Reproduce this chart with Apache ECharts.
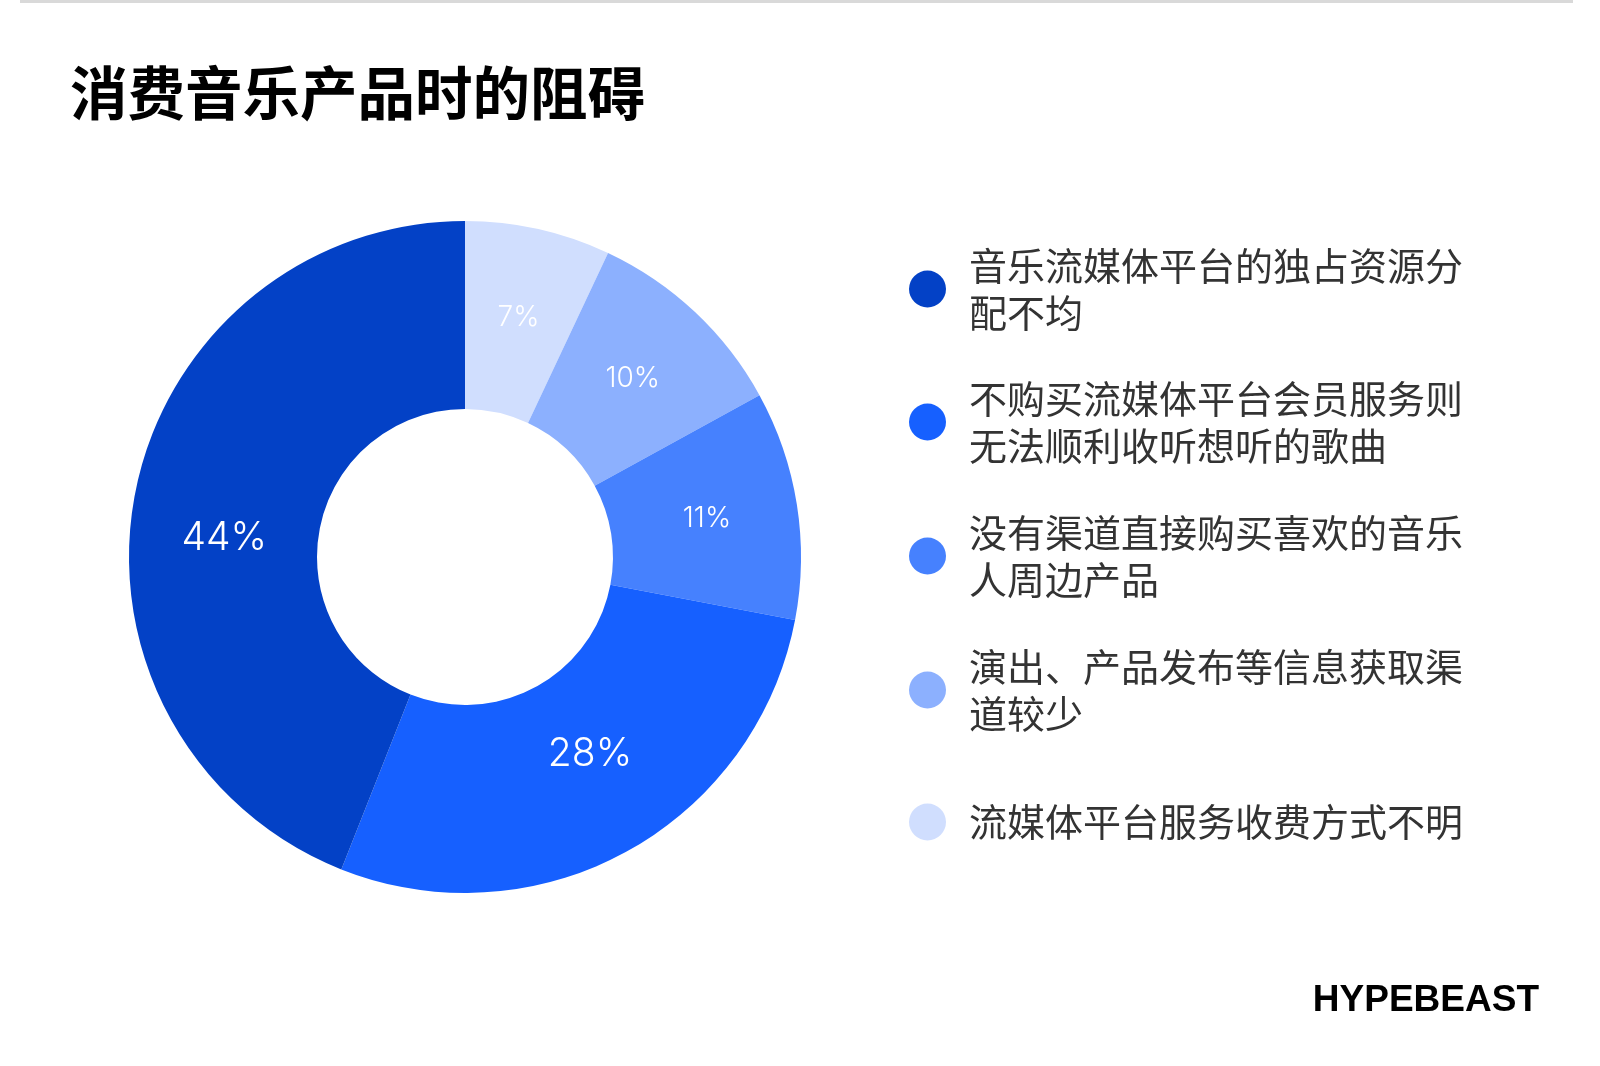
<!DOCTYPE html>
<html>
<head>
<meta charset="utf-8">
<script src="https://cdn.jsdelivr.net/npm/echarts@6/dist/echarts.min.js"></script>
<style>
  html, body { margin: 0; padding: 0; background: #fff; }
  #main { width: 1600px; height: 1066px; }
</style>
</head>
<body>
<div id="main"></div>
<script>
// 数据
var categories = [
  '音乐流媒体平台的独占资源分配不均',
  '不购买流媒体平台会员服务则无法顺利收听想听的歌曲',
  '没有渠道直接购买喜欢的音乐人周边产品',
  '演出、产品发布等信息获取渠道较少',
  '流媒体平台服务收费方式不明'
];
var values = [44, 28, 11, 10, 7];
var colors = ['#0341C6', '#1660FF', '#4681FE', '#8CB0FE', '#D0DEFE'];

var myChart = echarts.init(document.getElementById('main'));

// 饼图顺时针从 12 点开始是最小的一块，所以倒过来放
var pieData = [];
for (var i = categories.length - 1; i >= 0; i--) {
  pieData.push({
    name: categories[i],
    value: values[i],
    itemStyle: { color: colors[i] },
    label: { fontSize: values[i] >= 20 ? 39 : 28 }
  });
}

// 每条图例单独放一个 legend，方便控制位置
var legendCenters = [284, 417, 551, 685, 817];
var legends = categories.map(function (name, i) {
  var lines = name.match(/.{1,13}/g);
  return {
    data: [name],
    orient: 'vertical',
    left: 904,
    top: legendCenters[i] - lines.length * 47 / 2,
    icon: 'circle',
    itemWidth: 37,
    itemHeight: 37,
    selectedMode: false,
    formatter: function (n) { return n.match(/.{1,13}/g).join('\n'); },
    textStyle: {
      fontFamily: 'Noto Sans CJK SC',
      fontSize: 38,
      lineHeight: 47,
      color: '#333',
      padding: [0, 0, 0, 18]
    }
  };
});

var option = {
  backgroundColor: '#fff',
  animation: false,
  title: [{
    text: '消费音乐产品时的阻碍',
    left: 65,
    top: 59,
    textStyle: {
      fontFamily: 'Noto Sans CJK SC',
      fontSize: 57.5,
      fontWeight: 'bold',
      color: '#000'
    }
  }, {
    text: 'HYPEBEAST',
    right: 56,
    top: 977,
    textStyle: {
      fontFamily: 'Liberation Sans',
      fontSize: 37,
      fontWeight: 'bold',
      color: '#000'
    }
  }],
  graphic: [{
    type: 'rect',
    left: 20,
    top: 0,
    shape: { width: 1553, height: 3 },
    style: { fill: '#d9d9d9' }
  }],
  legend: legends,
  series: [{
    type: 'pie',
    center: [465, 557],
    radius: [148, 336],
    startAngle: 90,
    clockwise: true,
    emphasis: { scale: false },
    label: {
      show: true,
      position: 'inside',
      formatter: '{c}%',
      color: '#fff',
      fontFamily: 'Inter',
      fontWeight: 300
    },
    // 大块的标签在原图里稍微偏一点
    labelLayout: function (params) {
      if (params.dataIndex === 4) return { dy: 27 };
      if (params.dataIndex === 3) return { dx: 7, dy: -17 };
      return {};
    },
    labelLine: { show: false },
    data: pieData
  }]
};

myChart.setOption(option);
</script>
</body>
</html>
